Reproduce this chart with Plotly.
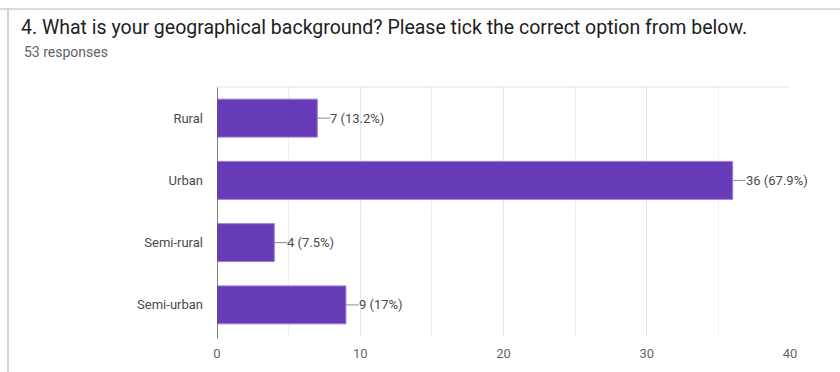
import plotly.graph_objects as go

# Survey question 4: geographical background of respondents
categories = ["Rural", "Urban", "Semi-rural", "Semi-urban"]
counts = [7, 36, 4, 9]
percent_labels = ["13.2%", "67.9%", "7.5%", "17%"]
total_responses = 53
x_ticks = [0, 10, 20, 30, 40]

W, H = 840, 372
L, R, T, B = 217, 50, 87, 36
plot_w = W - L - R
plot_h = H - T - B

bar_color = "#673ab7"
text_color = "#4a4a4a"
font_family = "Roboto, Arial, sans-serif"

fig = go.Figure()

fig.add_trace(go.Bar(
    y=categories,
    x=counts,
    orientation="h",
    width=0.61,
    marker=dict(color=bar_color, line=dict(color="#9c7fd6", width=1)),
    hoverinfo="skip",
))

# short leader lines + value labels at the end of each bar
lead = 0.9
for cat, v, p in zip(categories, counts, percent_labels):
    fig.add_trace(go.Scatter(
        x=[v, v + lead], y=[cat, cat], mode="lines",
        line=dict(color="#8a8a8a", width=1), hoverinfo="skip",
    ))
    fig.add_annotation(
        x=v + lead, y=cat, xref="x", yref="y",
        text=f"{v} ({p})", showarrow=False, xanchor="left", xshift=-2,
        font=dict(family=font_family, size=13, color=text_color),
    )

# card border (top and left edges)
def px_x(px):
    return (px - L) / plot_w

def px_y(py):
    return 1 - (py - T) / plot_h

fig.add_shape(type="line", xref="paper", yref="paper",
              x0=px_x(0), x1=px_x(W), y0=px_y(9), y1=px_y(9),
              line=dict(color="#cfcfcf", width=1.5))
fig.add_shape(type="line", xref="paper", yref="paper",
              x0=px_x(8), x1=px_x(8), y0=px_y(9), y1=px_y(H),
              line=dict(color="#c4c4c4", width=1.5))

# title and response count
fig.add_annotation(
    xref="paper", yref="paper", x=px_x(19), y=px_y(27),
    text="4. What is your geographical background? Please tick the correct option from below.",
    showarrow=False, xanchor="left", yanchor="middle",
    font=dict(family=font_family, size=19.5, color="#202124"),
)
fig.add_annotation(
    xref="paper", yref="paper", x=px_x(22), y=px_y(52),
    text=f"{total_responses} responses",
    showarrow=False, xanchor="left", yanchor="middle",
    font=dict(family=font_family, size=14, color="#5f6368"),
)

fig.update_layout(
    width=W, height=H,
    margin=dict(l=L, r=R, t=T, b=B),
    paper_bgcolor="white", plot_bgcolor="white",
    showlegend=False,
    font=dict(family=font_family, size=13, color=text_color),
    xaxis=dict(
        range=[0, 40], tickvals=x_ticks, showgrid=True, gridcolor="#e6e6e6",
        gridwidth=1, zeroline=False, showline=False, ticks="",
        minor=dict(dtick=5, showgrid=True, gridcolor="#f0f0f0", gridwidth=1),
        ticklabelstandoff=8,
        tickfont=dict(size=13, color="#666666"), fixedrange=True,
    ),
    yaxis=dict(
        categoryorder="array", categoryarray=categories[::-1],
        showgrid=False, zeroline=False, showline=False, ticks="",
        ticklabelstandoff=13, tickfont=dict(size=13, color=text_color),
        fixedrange=True,
    ),
)

# zero axis line
fig.add_shape(type="line", xref="x", yref="paper", x0=0, x1=0, y0=-0.01, y1=1,
              line=dict(color="#555555", width=1.5))
# top border of plotting area
fig.add_shape(type="line", xref="paper", yref="paper", x0=0, x1=1, y0=1, y1=1,
              line=dict(color="#e6e6e6", width=1))

fig.write_html("out.html")
